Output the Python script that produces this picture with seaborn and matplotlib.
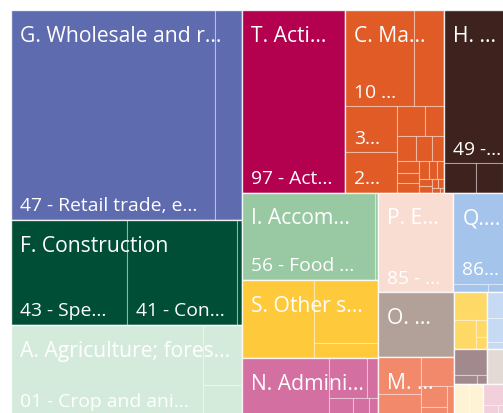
import matplotlib
matplotlib.use('Agg')
import matplotlib.pyplot as plt
from matplotlib.patches import Rectangle
import seaborn as sns

sns.set_theme(style='white')
plt.rcParams['font.family'] = ['Open Sans', 'DejaVu Sans']

# NACE sections, drawn in order of size
sections = ['G', 'F', 'A', 'T', 'C', 'H', 'I', 'S', 'N', 'P', 'Q', 'O', 'M',
            'R', 'J', 'K', 'L', 'B', 'E', 'D', 'U']
section_names = [
    'G. Wholesale and retail trade; repair of motor vehicles and motorcycles',
    'F. Construction',
    'A. Agriculture; forestry and fishing',
    'T. Activities of households as employers',
    'C. Manufacturing',
    'H. Transportation and storage',
    'I. Accommodation and food service activities',
    'S. Other service activities',
    'N. Administrative and support service activities',
    'P. Education',
    'Q. Human health and social work activities',
    'O. Public administration and defence; compulsory social security',
    'M. Professional, scientific and technical activities',
    'R. Arts, entertainment and recreation',
    'J. Information and communication',
    'K. Financial and insurance activities',
    'L. Real estate activities',
    'B. Mining and quarrying',
    'E. Water supply; sewerage, waste management and remediation activities',
    'D. Electricity, gas, steam and air conditioning supply',
    'U. Activities of extraterritorial organisations and bodies',
]
palette = ['#5F6BAF', '#004E36', '#D4EADB', '#B3004F', '#E05B25', '#3D221D',
           '#98C9A3', '#FFC93C', '#D46FA1', '#F9DDD3', '#A5C4EB', '#B1A199',
           '#F2896B', '#FFD966', '#C6DAF3', '#A1898D', '#E3DAD6', '#FFF3D6',
           '#F1D0DC', '#2E6C75', '#8C8C8C']

# divisions (detail level)
child_section = (['G'] * 2 + ['F'] * 3 + ['A'] * 3 + ['T'] + ['C'] * 21 + ['H'] * 4
                 + ['I'] * 2 + ['S'] * 3 + ['N'] * 6 + ['P'] + ['Q'] * 3 + ['O']
                 + ['M'] * 6 + ['R'] * 4 + ['J'] * 6 + ['K'] * 3 + ['L'] + ['B'] * 2
                 + ['E'] * 4 + ['D'] + ['U'])
child_names = [
    '47 - Retail trade, except of motor vehicles and motorcycles',
    '46 - Wholesale trade, except of motor vehicles and motorcycles',
    '43 - Specialised construction activities',
    '41 - Construction of buildings',
    '42 - Civil engineering',
    '01 - Crop and animal production, hunting and related service activities',
    '02 - Forestry and logging',
    '03 - Fishing and aquaculture',
    '97 - Activities of households as employers of domestic personnel',
    '10 - Manufacture of food products',
    '11 - Manufacture of beverages',
    '33 - Repair and installation of machinery and equipment',
    '25 - Manufacture of fabricated metal products',
    '31 - Manufacture of furniture',
    '16 - Manufacture of wood and of products of wood and cork',
    '23 - Manufacture of other non-metallic mineral products',
    '32 - Other manufacturing',
    '18 - Printing and reproduction of recorded media',
    '22 - Manufacture of rubber and plastic products',
    '14 - Manufacture of wearing apparel',
    '28 - Manufacture of machinery and equipment n.e.c.',
    '13 - Manufacture of textiles',
    '20 - Manufacture of chemicals and chemical products',
    '27 - Manufacture of electrical equipment',
    '26 - Manufacture of computer, electronic and optical products',
    '29 - Manufacture of motor vehicles, trailers and semi-trailers',
    '17 - Manufacture of paper and paper products',
    '30 - Manufacture of other transport equipment',
    '15 - Manufacture of leather and related products',
    '24 - Manufacture of basic metals',
    '49 - Land transport and transport via pipelines',
    '52 - Warehousing and support activities for transportation',
    '53 - Postal and courier activities',
    '50 - Water transport',
    '56 - Food and beverage service activities',
    '55 - Accommodation',
    '96 - Other personal service activities',
    '94 - Activities of membership organisations',
    '95 - Repair of computers and personal and household goods',
    '81 - Services to buildings and landscape activities',
    '82 - Office administrative, office support and other business support activities',
    '77 - Rental and leasing activities',
    '80 - Security and investigation activities',
    '78 - Employment activities',
    '79 - Travel agency, tour operator reservation service and related activities',
    '85 - Education',
    '86 - Human health activities',
    '88 - Social work activities without accommodation',
    '87 - Residential care activities',
    '84 - Public administration and defence; compulsory social security',
    '69 - Legal and accounting activities',
    '71 - Architectural and engineering activities; technical testing and analysis',
    '70 - Activities of head offices; management consultancy activities',
    '74 - Other professional, scientific and technical activities',
    '73 - Advertising and market research',
    '75 - Veterinary activities',
    '93 - Sports activities and amusement and recreation activities',
    '90 - Creative, arts and entertainment activities',
    '91 - Libraries, archives, museums and other cultural activities',
    '92 - Gambling and betting activities',
    '62 - Computer programming, consultancy and related activities',
    '63 - Information service activities',
    '58 - Publishing activities',
    '61 - Telecommunications',
    '60 - Programming and broadcasting activities',
    '59 - Motion picture, video and television programme production',
    '64 - Financial service activities, except insurance and pension funding',
    '66 - Activities auxiliary to financial services and insurance activities',
    '65 - Insurance, reinsurance and pension funding',
    '68 - Real estate activities',
    '08 - Other mining and quarrying',
    '09 - Mining support service activities',
    '38 - Waste collection, treatment and disposal activities',
    '36 - Water collection, treatment and supply',
    '37 - Sewerage',
    '39 - Remediation activities and other waste management services',
    '35 - Electricity, gas, steam and air conditioning supply',
    '99 - Activities of extraterritorial organisations and bodies',
]
child_values = [
    42840, 5607,
    12148, 11582, 494,
    17472, 2322, 1200,
    18852,
    6624, 2880, 2392, 2106, 837, 589, 460, 400, 290, 260, 230, 200, 180, 150,
    120, 100, 80, 60, 50, 40, 20,
    11016, 944, 800, 380,
    11624, 235,
    5683, 4051, 956,
    5000, 1520, 445, 430, 290, 162,
    7500,
    5693, 291, 236,
    4959,
    1600, 940, 910, 545, 245, 198,
    912, 653, 182, 133,
    760, 450, 250, 120, 50, 20,
    850, 210, 86,
    1010,
    500, 450,
    560, 160, 100, 40,
    165,
    30,
]

PHI = (1 + 5 ** 0.5) / 2


def squarify(values, x0, y0, x1, y1, ratio=PHI):
    # d3-style squarified layout, values sorted descending
    rects = [None] * len(values)
    total = float(sum(values))
    n = len(values)
    i0 = 0
    while i0 < n:
        dx, dy = x1 - x0, y1 - y0
        s = mn = mx = values[i0]
        i1 = i0 + 1
        alpha = max(dy / dx, dx / dy) / (total * ratio)
        beta = s * s * alpha
        best = max(mx / beta, beta / mn)
        while i1 < n:
            v = values[i1]
            s2, mn2, mx2 = s + v, min(mn, v), max(mx, v)
            beta = s2 * s2 * alpha
            r = max(mx2 / beta, beta / mn2)
            if r > best:
                break
            s, mn, mx, best = s2, mn2, mx2, r
            i1 += 1
        if dx < dy:
            h = dy * s / total
            cx = x0
            for i in range(i0, i1):
                w = dx * values[i] / s
                rects[i] = (cx, y0, cx + w, y0 + h)
                cx += w
            y0 += h
        else:
            w = dx * s / total
            cy = y0
            for i in range(i0, i1):
                h = dy * values[i] / s
                rects[i] = (x0, cy, x0 + w, cy + h)
                cy += h
            x0 += w
        total -= s
        i0 = i1
    return rects


fig = plt.figure(figsize=(5.03, 4.14), dpi=100)
ax = fig.add_axes([0, 0, 1, 1])
ax.set_xlim(0, 503)
ax.set_ylim(414, 0)
ax.axis('off')
renderer = fig.canvas.get_renderer()


def fit_label(x, y, text, maxw, size):
    t = ax.text(x, y, text, color='white', fontsize=size, ha='left', va='baseline')
    if t.get_window_extent(renderer).width <= maxw:
        return
    for k in range(len(text) - 1, 0, -1):
        t.set_text(text[:k] + '...')
        if t.get_window_extent(renderer).width <= maxw:
            return
    t.remove()


section_values = [sum(v for s, v in zip(child_section, child_values) if s == sec)
                  for sec in sections]
parent_rects = squarify(section_values, 11, 11, 516, 417)

for sec, name, color, (px0, py0, px1, py1) in zip(sections, section_names, palette, parent_rects):
    kids = sorted([(v, nm) for s, v, nm in zip(child_section, child_values, child_names) if s == sec],
                  reverse=True)
    kid_rects = squarify([v for v, _ in kids], px0, py0, px1, py1)
    for (v, nm), (cx0, cy0, cx1, cy1) in zip(kids, kid_rects):
        ax.add_patch(Rectangle((cx0, cy0), cx1 - cx0, cy1 - cy0, facecolor=color,
                               edgecolor=(1, 1, 1, 0.35), linewidth=0.8))
    ax.add_patch(Rectangle((px0, py0), px1 - px0, py1 - py0, facecolor='none',
                           edgecolor=(1, 1, 1, 0.75), linewidth=1.0))

    pw, ph = px1 - px0, py1 - py0
    if pw >= 45 and ph >= 40:
        fit_label(px0 + 9, py0 + 30.7, name, pw - 20, 15.2)
        for (v, nm), (cx0, cy0, cx1, cy1) in zip(kids, kid_rects):
            cw, ch = cx1 - cx0, cy1 - cy0
            need = 80 if abs(cy0 - py0) < 0.5 else 38
            if cw >= 45 and ch >= need:
                fit_label(cx0 + 9, cy1 - 9.5, nm, cw - 21, 13.9)

fig.savefig('out.png', dpi=100, facecolor='white')
